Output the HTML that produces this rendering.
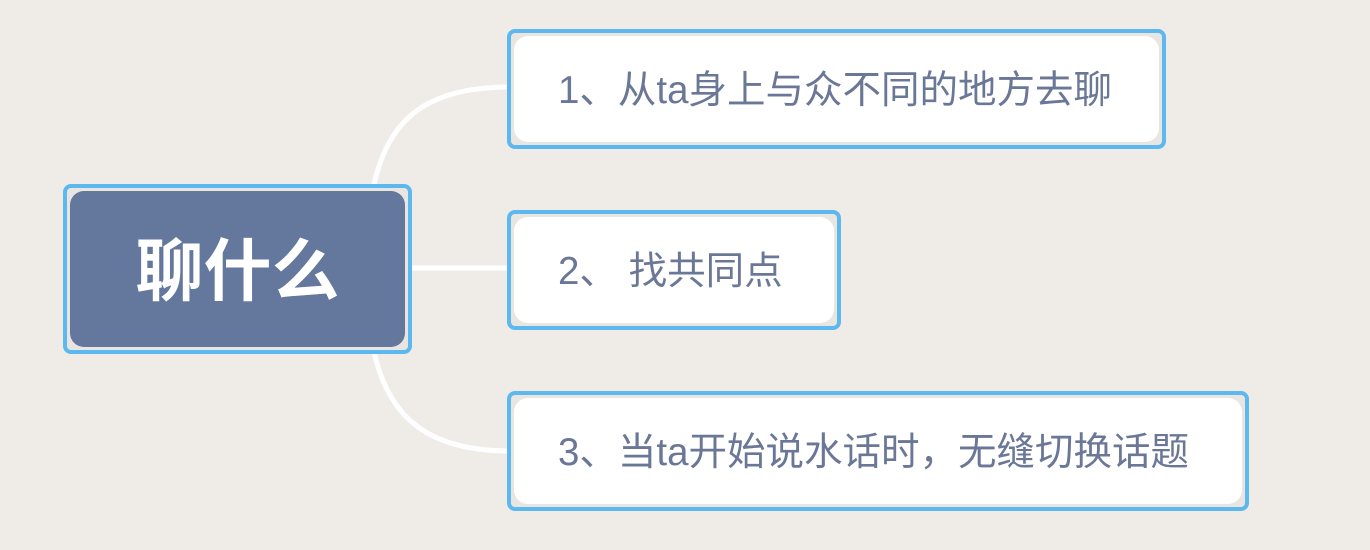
<!DOCTYPE html>
<html><head><meta charset="utf-8"><style>
body{margin:0;width:1370px;height:550px;background:#efece8;overflow:hidden;position:relative;font-family:"Liberation Sans","Noto Sans CJK SC",sans-serif}
.box{position:absolute;box-sizing:border-box;border:4px solid #5cb8ef;border-radius:8px;background:#e9e6e2;padding:3px}
.in{width:100%;height:100%;box-sizing:border-box;background:#fff;border-radius:14px;display:flex;align-items:center;color:#6a7796;font-size:38.5px;white-space:nowrap;padding-left:44px;padding-bottom:4px}
.root .in{background:#64779c;color:#fff;font-size:68px;font-weight:bold;justify-content:center;padding:0 0 8px 0}
svg{position:absolute;left:0;top:0}
</style></head><body>
<svg width="1370" height="550"><g fill="none" stroke="#fff" stroke-width="5">
<path d="M372 195 C385 120,425 87,510 87"/>
<path d="M410 268 L510 268"/>
<path d="M372 342 C385 415,425 451,510 451"/>
</g></svg>
<div class="box root" style="left:63px;top:184px;width:349px;height:170px"><div class="in">聊什么</div></div>
<div class="box" style="left:507px;top:29px;width:659px;height:120px"><div class="in">1、从ta身上与众不同的地方去聊</div></div>
<div class="box" style="left:507px;top:210px;width:334px;height:120px"><div class="in">2、 找共同点</div></div>
<div class="box" style="left:507px;top:391px;width:742px;height:120px"><div class="in">3、当ta开始说水话时，无缝切换话题</div></div>
</body></html>
